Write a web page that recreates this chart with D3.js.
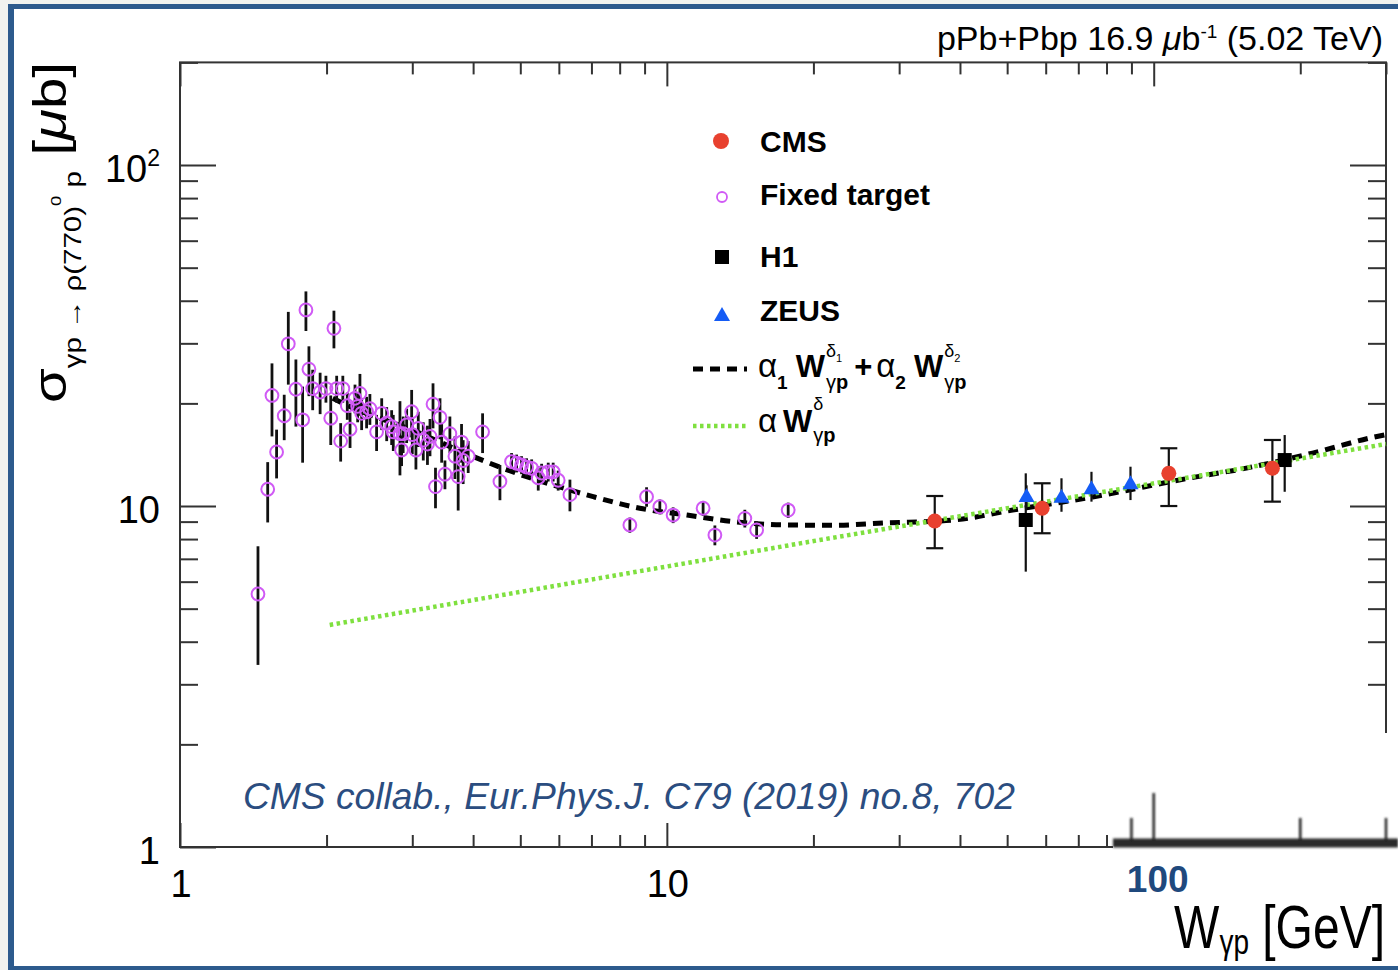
<!DOCTYPE html>
<html>
<head>
<meta charset="utf-8">
<script src="https://cdn.jsdelivr.net/npm/d3@7"></script>
<style>
  html, body { margin: 0; padding: 0; background: #f1f3ef; }
  svg { display: block; }
  text { font-family: "Liberation Sans", Arial, Helvetica, sans-serif; }
</style>
</head>
<body>
<svg id="chart" width="1398" height="970"></svg>
<script>
// ---------------- data ----------------
// Axis ranges and tick labels
const xDomain = [1, 300];
const yDomain = [1, 200];
const xMajorTicks = [1, 10, 100];
const xTickLabels = ["1", "10"];
const xTickLabelValues = [1, 10];
const yMajorTicks = [1, 10, 100];
const yTickBase = ["1", "10", "10"];
const yTickExp = ["", "", "2"];
const insetTicks = [90, 100, 200, 300];
const insetLabelValue = 100;
const insetLabel = "100";

// Fixed-target measurements: W (GeV), sigma (ub), error (ub)
const ftW = [1.446, 1.514, 1.579, 1.545, 1.637, 1.669, 1.730, 1.786, 1.814, 1.840,
  1.873, 1.94, 1.994, 2.04, 2.071, 2.098, 2.138, 2.16, 2.235, 2.206,
  2.288, 2.342, 2.317, 2.361, 2.417, 2.455, 2.534, 2.596, 2.658, 2.721,
  2.742, 2.83, 2.852, 2.873, 2.921, 2.991, 3.0, 3.052, 3.086, 3.16,
  3.223, 3.262, 3.309, 3.348, 3.42, 3.447, 3.501, 3.584, 3.67, 3.727,
  3.787, 3.816, 3.908, 4.183, 4.541, 4.798, 4.914, 5.03, 5.152, 5.276,
  5.443, 5.531, 5.706, 5.841, 5.981, 6.323, 8.395, 9.085, 9.674, 10.3,
  11.87, 12.55, 14.46, 15.29, 17.75];
const ftSigma = [5.52, 11.2, 14.4, 21.1, 18.4, 29.9, 22.0, 17.9, 37.6, 25.2,
  22.1, 21.6, 22.1, 18.1, 33.2, 22.1, 15.5, 22.1, 16.8, 19.7,
  20.7, 21.4, 19.6, 18.7, 18.9, 19.3, 16.5, 18.7, 17.5, 17.1,
  16.5, 16.3, 14.6, 16.3, 17.3, 18.9, 16.2, 14.6, 16.9, 15.6,
  15.2, 16.0, 19.9, 11.4, 18.2, 15.4, 12.4, 16.3, 14.0, 12.2,
  15.4, 13.6, 14.0, 16.5, 11.8, 13.5, 13.35, 13.2, 13.0, 12.9,
  12.1, 12.5, 12.6, 12.6, 11.9, 10.8, 8.8, 10.65, 9.95, 9.41,
  9.85, 8.22, 9.2, 8.51, 9.73];
const ftErr = [2.1, 2.25, 2.35, 5.1, 2.8, 7.2, 4.9, 4.5, 5.0, 4.2,
  3.0, 3.0, 2.0, 3.0, 4.2, 2.0, 2.0, 2.0, 2.0, 1.8,
  2.0, 3.0, 2.0, 2.0, 2.0, 2.0, 2.0, 2.0, 2.0, 2.0,
  2.0, 4.0, 1.5, 2.0, 2.0, 3.0, 2.0, 1.8, 2.0, 2.0,
  2.0, 2.0, 3.0, 1.55, 2.5, 2.0, 1.2, 2.0, 2.0, 2.5,
  2.0, 2.0, 1.5, 2.2, 1.4, 0.8, 0.8, 0.8, 0.8, 0.8,
  1.0, 0.8, 0.8, 0.8, 0.8, 1.15, 0.45, 0.7, 0.5, 0.5,
  0.5, 0.55, 0.55, 0.5, 0.5];

// CMS
const cmsW = [35.5, 59.0, 107.4, 175.3];
const cmsSigma = [9.04, 9.85, 12.47, 12.9];
const cmsErrUp = [1.66, 1.81, 2.3, 2.72];
const cmsErrDown = [1.52, 1.53, 2.47, 2.6];

// H1
const h1W = [54.6, 185.8];
const h1Sigma = [9.1, 13.64];
const h1ErrUp = [3.37, 2.51];
const h1ErrDown = [2.68, 2.63];

// ZEUS
const zeusW = [54.8, 64.65, 74.5, 89.6];
const zeusSigma = [10.7, 10.65, 11.27, 11.66];
const zeusErrUp = [0.8, 1.41, 1.33, 1.38];
const zeusErrDown = [0.8, 1.03, 0.97, 1.25];

// Two-component power-law fit (black dashed)
const fitW = [2.06, 2.21, 3.0, 3.94, 4.54, 6.32, 7.06, 8.8, 11.0, 13.7,
  17.6, 22, 28, 38.9, 51.3, 74.9, 118.5, 155, 212, 282, 300];
const fitSigma = [20.7, 19.7, 16.7, 14.1, 13.0, 11.14, 10.65, 9.85, 9.41, 9.0,
  8.8, 8.78, 8.92, 9.1, 9.73, 10.63, 12.08, 12.92, 14.3, 15.9, 16.2];

// Single power-law fit (green dotted)
const powW = [2.03, 20.6, 300];
const powSigma = [4.48, 7.95, 15.2];

// ---------------- drawing ----------------
const WIDTH = 1398, HEIGHT = 970;
const AXIS = "#333";
const FT_COLOR = "#d05af5";
const svg = d3.select("#chart");

// page frame
svg.append("rect").attr("x", 0).attr("y", 0).attr("width", WIDTH).attr("height", HEIGHT).attr("fill", "#f1f3ef");
svg.append("rect").attr("x", 8).attr("y", 4).attr("width", WIDTH - 8).attr("height", HEIGHT - 4).attr("fill", "#2d5b8d");
svg.append("rect").attr("x", 14).attr("y", 9).attr("width", WIDTH - 14).attr("height", 957).attr("fill", "#ffffff");

const x = d3.scaleLog().domain(xDomain).range([180, 1386]);
const y = d3.scaleLog().domain(yDomain).range([847, 62.4]);
const [px0, px1] = x.range();
const [py0, py1] = y.range();

// axis frame
svg.append("rect").attr("x", px0).attr("y", py1).attr("width", px1 - px0).attr("height", py0 - py1)
  .attr("fill", "none").attr("stroke", AXIS).attr("stroke-width", 2);

function tickAxis(axisFn, scale, values, size, transform) {
  const g = svg.append("g").attr("transform", transform)
    .call(axisFn(scale).tickValues(values).tickSize(size).tickFormat(""));
  g.select(".domain").remove();
  g.selectAll("text").remove();
  g.selectAll("line").attr("stroke", AXIS).attr("stroke-width", 2);
  return g;
}
const xMinor = x.ticks().filter(v => !xMajorTicks.includes(v));
const yMinor = y.ticks().filter(v => !yMajorTicks.includes(v));

tickAxis(d3.axisTop, x, xMinor, 12, `translate(0,${py0})`);
tickAxis(d3.axisTop, x, xMajorTicks, 24, `translate(0,${py0})`);
tickAxis(d3.axisBottom, x, xMinor, 12, `translate(0,${py1})`);
tickAxis(d3.axisBottom, x, xMajorTicks, 24, `translate(0,${py1})`);
tickAxis(d3.axisRight, y, yMinor, 18, `translate(${px0},0)`);
tickAxis(d3.axisRight, y, yMajorTicks, 36, `translate(${px0},0)`);
tickAxis(d3.axisLeft, y, yMinor, 18, `translate(${px1},0)`);
tickAxis(d3.axisLeft, y, yMajorTicks, 36, `translate(${px1},0)`);

// tick labels
xTickLabelValues.forEach((v, i) => {
  svg.append("text").attr("x", x(v) + 1).attr("y", 897).attr("text-anchor", "middle")
    .style("font-size", "38px").attr("fill", "#000").text(xTickLabels[i]);
});
yMajorTicks.forEach((v, i) => {
  const t = svg.append("text").attr("x", 160).attr("y", y(v) + 17).attr("text-anchor", "end")
    .style("font-size", "38px").attr("fill", "#000");
  t.append("tspan").text(yTickBase[i]);
  if (yTickExp[i]) t.append("tspan").attr("dy", -16).style("font-size", "23px").text(yTickExp[i]);
});

// axis titles
const xt = svg.append("g").attr("transform", "translate(1385,948) scale(1,1.28)")
  .append("text").attr("text-anchor", "end").style("font-size", "48px").attr("fill", "#000");
xt.append("tspan").text("W");
xt.append("tspan").attr("dy", 5).style("font-size", "28px").text("γp");
xt.append("tspan").attr("dy", -5).text(" [GeV]");

const yt = svg.append("text").attr("transform", "translate(66,403) rotate(-90)")
  .attr("textLength", 341).attr("lengthAdjust", "spacingAndGlyphs")
  .style("font-size", "46px").attr("fill", "#000");
yt.append("tspan").text("σ");
yt.append("tspan").attr("dy", 15).style("font-size", "24px").text("γp → ρ(770)");
yt.append("tspan").attr("dy", -20).style("font-size", "15px").text("0");
yt.append("tspan").attr("dy", 20).style("font-size", "24px").text(" p");
yt.append("tspan").attr("dy", -15).text(" [");
yt.append("tspan").style("font-style", "italic").text("μ");
yt.append("tspan").text("b]");

// header
const tt = svg.append("text").attr("x", 1383).attr("y", 50).attr("text-anchor", "end")
  .style("font-size", "34px").attr("fill", "#000");
tt.append("tspan").text("pPb+Pbp 16.9 ");
tt.append("tspan").style("font-style", "italic").text("μ");
tt.append("tspan").text("b");
tt.append("tspan").attr("dy", -12).style("font-size", "19px").text("-1");
tt.append("tspan").attr("dy", 12).text(" (5.02 TeV)");

// fit curves
const line = d3.line().x(d => x(d[0])).y(d => y(d[1])).curve(d3.curveMonotoneX);
svg.append("path").datum(fitW.map((w, i) => [w, fitSigma[i]])).attr("d", line)
  .attr("fill", "none").attr("stroke", "#000").attr("stroke-width", 5).attr("stroke-dasharray", "10,7");
svg.append("path").datum(powW.map((w, i) => [w, powSigma[i]])).attr("d", d3.line().x(d => x(d[0])).y(d => y(d[1])))
  .attr("fill", "none").attr("stroke", "#7fe03f").attr("stroke-width", 4.5).attr("stroke-dasharray", "3.5,3.5");

// fixed target points
const ft = svg.append("g");
ftW.forEach((w, i) => {
  ft.append("line").attr("x1", x(w)).attr("x2", x(w))
    .attr("y1", y(ftSigma[i] - ftErr[i])).attr("y2", y(ftSigma[i] + ftErr[i]))
    .attr("stroke", "#111").attr("stroke-width", 2.8);
});
ftW.forEach((w, i) => {
  ft.append("circle").attr("cx", x(w)).attr("cy", y(ftSigma[i])).attr("r", 6.4)
    .attr("fill", "none").attr("stroke", FT_COLOR).attr("stroke-width", 2);
});

function errBars(g, ws, ss, up, down, caps) {
  ws.forEach((w, i) => {
    const cx = x(w), yt2 = y(ss[i] + up[i]), yb = y(ss[i] - down[i]);
    g.append("line").attr("x1", cx).attr("x2", cx).attr("y1", yt2).attr("y2", yb)
      .attr("stroke", "#111").attr("stroke-width", 2.2);
    if (caps) {
      [yt2, yb].forEach(yy => g.append("line").attr("x1", cx - 8.5).attr("x2", cx + 8.5)
        .attr("y1", yy).attr("y2", yy).attr("stroke", "#111").attr("stroke-width", 2.2));
    }
  });
}

// H1
const h1g = svg.append("g");
errBars(h1g, h1W, h1Sigma, h1ErrUp, h1ErrDown, false);
h1W.forEach((w, i) => h1g.append("rect").attr("x", x(w) - 7).attr("y", y(h1Sigma[i]) - 7)
  .attr("width", 14).attr("height", 14).attr("fill", "#000"));

// ZEUS
const triPath = "M0,-8L8,6L-8,6Z";
const zg = svg.append("g");
errBars(zg, zeusW, zeusSigma, zeusErrUp, zeusErrDown, false);
zeusW.forEach((w, i) => zg.append("path").attr("d", triPath)
  .attr("transform", `translate(${x(w)},${y(zeusSigma[i])})`).attr("fill", "#155cf5"));

// CMS
const cg = svg.append("g");
errBars(cg, cmsW, cmsSigma, cmsErrUp, cmsErrDown, true);
cmsW.forEach((w, i) => cg.append("circle").attr("cx", x(w)).attr("cy", y(cmsSigma[i])).attr("r", 7.5)
  .attr("fill", "#e8412f"));

// legend
const lg = svg.append("g");
lg.append("circle").attr("cx", 721).attr("cy", 141).attr("r", 8).attr("fill", "#e8412f");
lg.append("circle").attr("cx", 722).attr("cy", 197).attr("r", 5).attr("fill", "none")
  .attr("stroke", FT_COLOR).attr("stroke-width", 1.8);
lg.append("rect").attr("x", 715).attr("y", 250).attr("width", 14).attr("height", 14).attr("fill", "#000");
lg.append("path").attr("d", triPath).attr("transform", "translate(722,315)").attr("fill", "#155cf5");
lg.append("line").attr("x1", 693).attr("x2", 747).attr("y1", 369).attr("y2", 369)
  .attr("stroke", "#000").attr("stroke-width", 5).attr("stroke-dasharray", "10,7");
lg.append("line").attr("x1", 693).attr("x2", 747).attr("y1", 426).attr("y2", 426)
  .attr("stroke", "#7fe03f").attr("stroke-width", 4.5).attr("stroke-dasharray", "3.5,3.5");

[["CMS", 152], ["Fixed target", 205], ["H1", 267], ["ZEUS", 321]].forEach(([label, by]) => {
  lg.append("text").attr("x", 760).attr("y", by).style("font-size", "30px").style("font-weight", "bold")
    .attr("fill", "#000").text(label);
});

function drawRun(parent, x0, base, parts) {
  let cx = x0;
  parts.forEach(p => {
    if (p.sup || p.sub) {
      const a = p.sup ? drawRun(parent, cx, base, p.sup) : cx;
      const b = p.sub ? drawRun(parent, cx, base, p.sub) : cx;
      cx = Math.max(a, b) + (p.gap || 0);
    } else {
      const el = parent.append("text").attr("x", cx).attr("y", base + (p.dy || 0))
        .style("font-size", p.size + "px").style("font-weight", p.bold ? "bold" : "normal")
        .attr("fill", "#000").text(p.t);
      cx += el.node().getComputedTextLength() + (p.gap || 0);
    }
  });
  return cx;
}
const stackParts = idx => ({
  sup: [{ t: "δ", size: 18, dy: -20 }, { t: idx, size: 11, dy: -15 }],
  sub: [{ t: "γ", size: 20, dy: 12 }, { t: "p", size: 20, bold: true, dy: 12 }]
});
drawRun(lg, 758, 377, [
  { t: "α", size: 33 }, { t: "1", size: 19, bold: true, dy: 12, gap: 8 },
  { t: "W", size: 31, bold: true, gap: 1 }, Object.assign(stackParts("1"), { gap: 6 }),
  { t: "+", size: 31, bold: true, gap: 4 },
  { t: "α", size: 33 }, { t: "2", size: 19, bold: true, dy: 12, gap: 8 },
  { t: "W", size: 31, bold: true, gap: 1 }, stackParts("2")
]);
drawRun(lg, 758, 432, [
  { t: "α", size: 33, gap: 6 },
  { t: "W", size: 31, bold: true, gap: 1 },
  { sup: [{ t: "δ", size: 18, dy: -22 }], sub: [{ t: "γ", size: 20, dy: 10 }, { t: "p", size: 20, bold: true, dy: 10 }] }
]);

// citation
svg.append("text").attr("x", 243).attr("y", 809).attr("textLength", 772).attr("lengthAdjust", "spacingAndGlyphs")
  .style("font-size", "37px").style("font-style", "italic")
  .attr("fill", "#2b4d80").text("CMS collab., Eur.Phys.J. C79 (2019) no.8, 702");

// high-W axis inset with its own label
const defs = svg.append("defs");
defs.append("filter").attr("id", "soft").attr("x", "-5%").attr("y", "-50%").attr("width", "110%").attr("height", "200%")
  .append("feGaussianBlur").attr("stdDeviation", 1.3);
svg.append("rect").attr("x", 1113).attr("y", 733).attr("width", WIDTH - 1113).attr("height", 119).attr("fill", "#fff");
const inset = svg.append("g").attr("filter", "url(#soft)");
inset.append("line").attr("x1", 1113).attr("x2", WIDTH).attr("y1", 843).attr("y2", 843)
  .attr("stroke", "#2a2a2a").attr("stroke-width", 9);
insetTicks.forEach(v => {
  inset.append("line").attr("x1", x(v)).attr("x2", x(v)).attr("y1", 841)
    .attr("y2", v === insetLabelValue ? 793 : 818).attr("stroke", "#222").attr("stroke-width", 2.5);
});
svg.append("text").attr("x", x(insetLabelValue) + 4).attr("y", 892).attr("text-anchor", "middle")
  .style("font-size", "37px").style("font-weight", "bold").attr("fill", "#1f497d").text(insetLabel);
</script>
</body>
</html>
